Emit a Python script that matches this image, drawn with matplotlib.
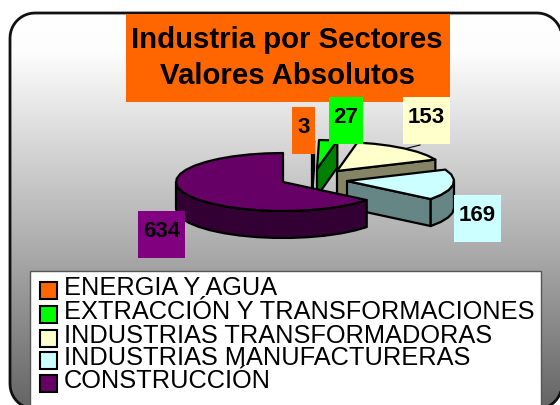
import numpy as np
import matplotlib
matplotlib.use("Agg")
import matplotlib.pyplot as plt
from matplotlib.patches import Polygon, Rectangle
from matplotlib.colors import LinearSegmentedColormap

categories = ["ENERGIA Y AGUA", "EXTRACCIÓN Y TRANSFORMACIONES",
              "INDUSTRIAS TRANSFORMADORAS", "INDUSTRIAS MANUFACTURERAS",
              "CONSTRUCCIÓN"]
values = [3, 27, 153, 169, 634]
title_lines = ["Industria por Sectores", "Valores Absolutos"]

top_colors = ["#FF6600", "#00FF00", "#FFFFCC", "#CCFFFF", "#660066"]
side_colors = ["#803300", "#008000", "#858566", "#668585", "#330033"]
label_colors = ["#FF6600", "#00FF00", "#FFFFCC", "#CCFFFF", "#800080"]

plt.rcParams["font.family"] = ["Liberation Sans", "DejaVu Sans"]
fig = plt.figure(figsize=(5.6, 4.06), dpi=100)
ax = fig.add_axes([0, 0, 1, 1])
ax.set_xlim(0, 560)
ax.set_ylim(406, 0)
ax.axis("off")

# Rounded frame with gradient
def corner(cx, cy, a0, a1, r=25):
    t = np.radians(np.linspace(a0, a1, 12))
    return np.column_stack([cx + r * np.cos(t), cy + r * np.sin(t)])

L, T, R, B = 10, 14, 562, 410
outline = np.vstack([corner(L + 25, T + 25, 180, 270), corner(R - 25, T + 25, 270, 360),
                     corner(R - 25, B - 25, 0, 90), corner(L + 25, B - 25, 90, 180)])
frame = Polygon(outline, closed=True, fc="none", ec="#111111", lw=2, zorder=2)
ax.add_patch(frame)
cmap = LinearSegmentedColormap.from_list("bg", [(0, "#FFFFFF"), (0.1, "#FDFDFD"),
                                                (0.6, "#ACACAC"), (1, "#666666")])
grad = np.linspace(0, 1, 256).reshape(-1, 1)
im = ax.imshow(grad, extent=[0, 560, 406, 14], cmap=cmap, aspect="auto", zorder=1,
               vmin=0, vmax=1)
im.set_clip_path(frame)
ax.set_xlim(0, 560)
ax.set_ylim(406, 0)

# Title
ax.add_patch(Rectangle((126, 15), 324, 88, fc="#FF6600", ec="none", zorder=3))
for line, y in zip(title_lines, [40, 76]):
    ax.text(287, y, line, ha="center", va="center", fontsize=21.2, fontweight="bold", zorder=4)

# Pie geometry (pixel units)
rx, ry = 107, 29
depth = 27
apexes = [(312, 171), (317, 170), (337, 172), (347, 182), (283, 183)]
edge = dict(ec="black", lw=1.6, joinstyle="round")

def point(c, a, dy=0):
    return (c[0] + rx * np.cos(np.radians(a)), c[1] - ry * np.sin(np.radians(a)) + dy)

def arc(c, a0, a1, dy=0, step=9):
    n = max(2, int(abs(a1 - a0) / step) + 1)
    return [point(c, a, dy) for a in np.linspace(a0, a1, n)]

angles = 360 * np.array(values) / sum(values)
start = 90.0
for i, ang in enumerate(angles):
    c = apexes[i]
    a0, a1 = start, start - ang
    z = 5 + i
    lo = (c[0], c[1] + depth)
    # radial cut at the clockwise end of the slice, when it faces the viewer
    end = point(c, a1)
    if i < 4:
        ax.add_patch(Polygon([c, end, (end[0], end[1] + depth), lo],
                             fc=side_colors[i], zorder=z, **edge))
    # outer wall, only the part below the horizon is visible
    w0, w1 = min(a0, 0), max(a1, -180)
    if w0 > w1:
        ax.add_patch(Polygon(arc(c, w0, w1) + arc(c, w1, w0, depth),
                             fc=side_colors[i], zorder=z, **edge))
    ax.add_patch(Polygon([c] + arc(c, a0, a1), fc=top_colors[i], zorder=z + 0.5, **edge))
    start = a1

# Leader line of the third label
ax.plot([404, 420], [150, 146], color="black", lw=0.8, zorder=4)

# Data labels
label_boxes = [(292, 108, 23, 47), (329, 98, 34, 47), (403, 98, 47, 47),
               (454, 196, 47, 47), (138, 212, 47, 47)]
for val, col, (x, y, w, h) in zip(values, label_colors, label_boxes):
    ax.add_patch(Rectangle((x, y), w, h, fc=col, ec="none", zorder=12))
    ax.text(x + w / 2, y + h * 0.42, str(val), ha="center", va="center",
            fontsize=16, fontweight="bold", zorder=13)

# Legend
ax.add_patch(Rectangle((30, 272), 511, 140, fc="white", ec="#555555", lw=1, zorder=14))
rows = [288, 312, 336, 358, 381]
for name, col, y in zip(categories, top_colors, rows):
    ax.add_patch(Rectangle((40, y - 5), 17, 16.5, fc=col, ec="black", lw=1.5, zorder=15))
    ax.text(64, y, name, ha="left", va="center", fontsize=18.3, zorder=15)

fig.savefig("out.png", dpi=100)
